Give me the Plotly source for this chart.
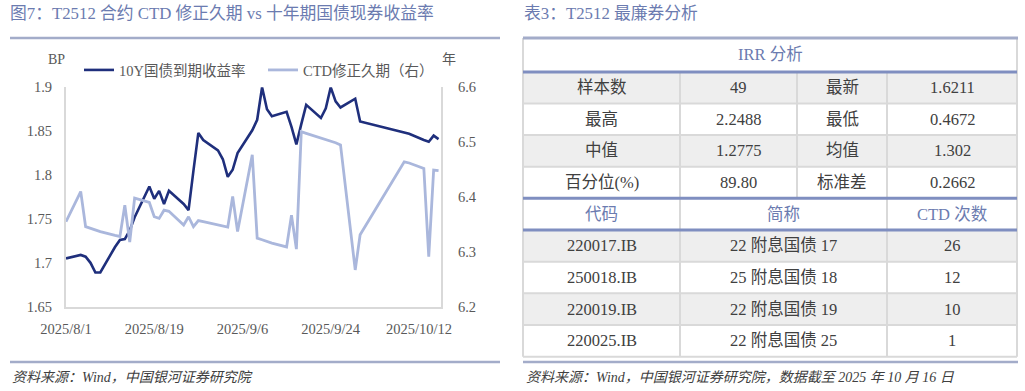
import plotly.graph_objects as go

# ---------------- data ----------------
dates = ["2025-08-01","2025-08-04","2025-08-05","2025-08-06","2025-08-07","2025-08-08",
         "2025-08-11","2025-08-12","2025-08-13","2025-08-14","2025-08-15",
         "2025-08-18","2025-08-19","2025-08-20","2025-08-21","2025-08-22",
         "2025-08-25","2025-08-26","2025-08-27","2025-08-28","2025-08-29",
         "2025-09-01","2025-09-02","2025-09-03","2025-09-04","2025-09-05",
         "2025-09-08","2025-09-09","2025-09-10","2025-09-11","2025-09-12",
         "2025-09-15","2025-09-16","2025-09-17","2025-09-18","2025-09-19",
         "2025-09-22","2025-09-23","2025-09-24","2025-09-25","2025-09-26",
         "2025-09-29","2025-09-30",
         "2025-10-09","2025-10-10","2025-10-13","2025-10-14","2025-10-15","2025-10-16"]

yield_10y = [1.705,1.709,1.707,1.700,1.689,1.689,
             1.718,1.726,1.727,1.737,1.752,
             1.787,1.773,1.782,1.767,1.782,
             1.767,1.760,1.805,1.848,1.840,
             1.828,1.818,1.798,1.806,1.825,
             1.851,1.863,1.900,1.875,1.867,
             1.872,1.855,1.835,1.858,1.880,
             1.865,1.876,1.900,1.884,1.877,
             1.887,1.861,
             1.848,1.847,1.840,1.838,1.845,1.841]

ctd_duration = [6.355,6.410,6.346,6.343,6.340,6.337,
                6.330,6.328,6.385,6.318,6.398,
                6.390,6.364,6.361,6.376,6.374,
                6.349,6.364,6.346,6.357,6.355,
                6.349,6.347,6.345,6.401,6.337,
                6.477,6.325,6.322,6.319,6.316,
                6.309,6.367,6.305,6.519,6.516,
                6.508,6.505,6.502,6.499,6.495,
                6.267,6.331,
                6.464,6.462,6.452,6.291,6.449,6.448]

series_names = ["10Y国债到期收益率", "CTD修正久期（右）"]
x_tick_vals = ["2025-08-01", "2025-08-19", "2025-09-06", "2025-09-24", "2025-10-12"]
x_tick_text = ["2025/8/1", "2025/8/19", "2025/9/6", "2025/9/24", "2025/10/12"]

chart_title = "图7：T2512 合约 CTD 修正久期 vs 十年期国债现券收益率"
table_title = "表3：T2512 最廉券分析"
irr_header = "IRR 分析"
irr_rows = [["样本数", "49", "最新", "1.6211"],
            ["最高", "2.2488", "最低", "0.4672"],
            ["中值", "1.2775", "均值", "1.302"],
            ["百分位(%)", "89.80", "标准差", "0.2662"]]
bond_header = ["代码", "简称", "CTD 次数"]
bond_codes = ["220017.IB", "250018.IB", "220019.IB", "220025.IB"]
bond_names = ["22 附息国债 17", "25 附息国债 18", "22 附息国债 19", "22 附息国债 25"]
ctd_counts = ["26", "12", "10", "1"]
source_left = "资料来源：Wind，中国银河证券研究院"
source_right = "资料来源：Wind，中国银河证券研究院，数据截至 2025 年 10 月 16 日"

# ---------------- layout helpers ----------------
W, H = 1025, 391
def px(x):
    return x / W
def py(y):
    return 1 - y / H

FONT = "Liberation Serif, Noto Sans CJK SC, serif"
TITLE_C = "#6b7bb0"
TEXT_C = "#404040"
TICK_C = "#595959"
RULE_C = "#a3acc9"
BLUE_LINE = "#7f8ec0"
GRID_C = "#d9d9d9"
FILL_C = "#eeeeee"
CELL_SIZE = 16.5

fig = go.Figure()
fig.add_trace(go.Scatter(x=dates, y=yield_10y, mode="lines", name=series_names[0],
                         line=dict(color="#1f2f7c", width=2.6), legend="legend"))
fig.add_trace(go.Scatter(x=dates, y=ctd_duration, mode="lines", name=series_names[1],
                         line=dict(color="#aab7dc", width=2.8), yaxis="y2", legend="legend2"))

plot_l, plot_r, plot_t, plot_b = 66, 441, 87.3, 306.7

fig.update_layout(
    width=W, height=H, autosize=False,
    margin=dict(l=0, r=0, t=0, b=0, pad=0, autoexpand=False),
    paper_bgcolor="white", plot_bgcolor="white",
    font=dict(family=FONT, color=TICK_C, size=14.5),
    xaxis=dict(domain=[px(plot_l), px(plot_r)], type="date", automargin=False,
               range=["2025-08-01", "2025-10-16 12:00"],
               tickvals=x_tick_vals, ticktext=x_tick_text,
               showgrid=False, zeroline=False, showline=True, linecolor=GRID_C, linewidth=2,
               ticks="", ticklabelstandoff=8, tickfont=dict(size=14.5, color=TICK_C)),
    yaxis=dict(domain=[py(plot_b), py(plot_t)], range=[1.65, 1.9], dtick=0.05, automargin=False,
               showgrid=False, zeroline=False, showline=True, linecolor=GRID_C, linewidth=2,
               ticks="", ticklabelstandoff=9, tickfont=dict(size=14.5, color=TICK_C)),
    yaxis2=dict(overlaying="y", side="right", range=[6.2, 6.6], dtick=0.1, automargin=False,
                showgrid=False, zeroline=False, showline=True, linecolor=GRID_C, linewidth=2,
                ticks="", ticklabelstandoff=12, tickfont=dict(size=14.5, color=TICK_C)),
    legend=dict(x=px(79), y=py(70), xanchor="left", yanchor="middle", orientation="h",
                bgcolor="rgba(0,0,0,0)", font=dict(size=14.5, color=TICK_C)),
    legend2=dict(x=px(263), y=py(70), xanchor="left", yanchor="middle", orientation="h",
                 bgcolor="rgba(0,0,0,0)", font=dict(size=14.5, color=TICK_C)),
    showlegend=True,
)

shapes = []
annots = []

def line(x0, y0, x1, y1, color, width):
    shapes.append(dict(type="line", xref="paper", yref="paper",
                       x0=px(x0), y0=py(y0), x1=px(x1), y1=py(y1),
                       line=dict(color=color, width=width)))

def rect(x0, y0, x1, y1, fill):
    shapes.append(dict(type="rect", xref="paper", yref="paper", layer="below",
                       x0=px(x0), y0=py(y0), x1=px(x1), y1=py(y1),
                       fillcolor=fill, line=dict(width=0)))

def text(x, y, s, size=CELL_SIZE, color=TEXT_C, xanchor="center", italic=False):
    annots.append(dict(x=px(x), y=py(y), xref="paper", yref="paper", text=s,
                       showarrow=False, xanchor=xanchor, yanchor="middle",
                       font=dict(family=FONT, size=size, color=color,
                                 style="italic" if italic else "normal")))

# titles and rules
text(8, 14, chart_title, size=16.8, color=TITLE_C, xanchor="left")
text(522, 14, table_title, size=16.8, color=TITLE_C, xanchor="left")
line(10, 38, 500, 38, RULE_C, 2.5)
line(10, 362, 500, 362, RULE_C, 2.5)
line(523, 362, 1018, 362, RULE_C, 2.5)
text(10, 377, source_left, size=14, color=TEXT_C, xanchor="left", italic=True)
text(524, 377, source_right, size=14, color=TEXT_C, xanchor="left", italic=True)

# axis unit labels
text(56, 60, "BP", size=14, color=TICK_C)
text(449, 60, "年", size=14, color=TICK_C)

# ---------------- table ----------------
tl, tr = 523, 1017
c4 = [523, 680, 797, 887, 1017]
c3 = [523, 680, 887, 1017]
y_top, y_irr = 38, 72
stat_rows_y = [72, 103.5, 135, 166.7, 198.3]
y_h2 = 230
bond_rows_y = [230, 261.7, 293.3, 325, 356.7]

for i in range(len(irr_rows)):
    if i % 2 == 0:
        rect(tl, stat_rows_y[i], tr, stat_rows_y[i + 1], FILL_C)
for i in range(len(bond_codes)):
    if i % 2 == 0:
        rect(tl, bond_rows_y[i], tr, bond_rows_y[i + 1], FILL_C)

# gray grid
line(tl, y_top, tl, bond_rows_y[-1], GRID_C, 2)
line(tr, y_top, tr, bond_rows_y[-1], GRID_C, 2)
for cx in c4[1:-1]:
    line(cx, stat_rows_y[0], cx, stat_rows_y[-1], GRID_C, 2)
for cx in c3[1:-1]:
    line(cx, stat_rows_y[-1], cx, bond_rows_y[-1], GRID_C, 2)
for yy in stat_rows_y[1:-1] + bond_rows_y[1:]:
    line(tl, yy, tr, yy, GRID_C, 2)

# blue thick lines
line(tl, y_top, tr + 1, y_top, RULE_C, 3)
for yy in [y_irr, stat_rows_y[-1], y_h2]:
    line(tl, yy, tr, yy, BLUE_LINE, 3)

# table text
text((tl + tr) / 2, (y_top + y_irr) / 2, irr_header, color=TITLE_C)
for i, row in enumerate(irr_rows):
    yc = (stat_rows_y[i] + stat_rows_y[i + 1]) / 2
    for j, s in enumerate(row):
        text((c4[j] + c4[j + 1]) / 2, yc, s)
yc = (stat_rows_y[-1] + y_h2) / 2
for j, s in enumerate(bond_header):
    text((c3[j] + c3[j + 1]) / 2, yc, s, color=TITLE_C)
for i in range(len(bond_codes)):
    yc = (bond_rows_y[i] + bond_rows_y[i + 1]) / 2
    for j, s in enumerate([bond_codes[i], bond_names[i], ctd_counts[i]]):
        text((c3[j] + c3[j + 1]) / 2, yc, s)

fig.update_layout(shapes=shapes, annotations=annots)
# remove the browser's default 8px page margin so the figure sits at the window origin
fig.write_html("out.html",
               config={"displayModeBar": False},
               post_script="document.body.style.margin='0px';document.body.style.overflow='hidden';")
